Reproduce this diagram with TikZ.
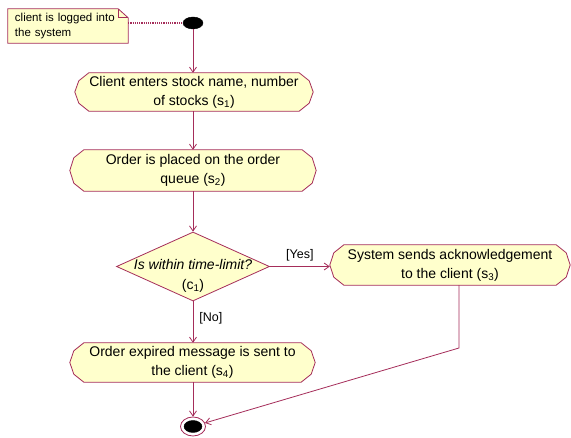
\documentclass[tikz,border=0pt]{standalone}
\usepackage{fontspec}
\setmainfont{Liberation Sans}
\usetikzlibrary{shapes.geometric,arrows.meta,calc,backgrounds}
\definecolor{umlline}{RGB}{165,45,90}
\definecolor{umlfill}{RGB}{255,255,204}
\newcommand\actoutline[1]{%
  \filldraw[actline] ($(#1.north west)+(14,0)$) -- ($(#1.north east)+(-14,0)$)
    -- ($(#1.north east)+(-4,8)$) -- (#1.east) -- ($(#1.south east)+(-4,-8)$)
    -- ($(#1.south east)+(-14,0)$) -- ($(#1.south west)+(14,0)$)
    -- ($(#1.south west)+(4,-8)$) -- (#1.west) -- ($(#1.north west)+(4,8)$) -- cycle;}
\tikzset{
  actline/.style={draw=umlline, fill=umlfill, line width=0.8pt, line join=round},
  act/.style={draw=none, inner sep=0pt, align=center, font=\fontsize{14}{19}\selectfont},
  decision/.style={shape=diamond, draw=umlline, fill=umlfill, line width=0.8pt, inner sep=0pt, minimum width=153pt, minimum height=69pt},
  dectext/.style={inner sep=0pt, align=center, font=\fontsize{14}{20}\selectfont},
  initnode/.style={shape=ellipse, fill=black, draw=black, inner sep=0pt, minimum width=20pt, minimum height=12pt},
  finalnode/.style={shape=ellipse, fill=white, draw=umlline, line width=0.8pt, inner sep=0pt, minimum width=25pt, minimum height=19pt},
  finaldot/.style={shape=ellipse, fill=black, draw=black, inner sep=0pt, minimum width=18pt, minimum height=12pt},
  note/.style={draw=none, inner xsep=7pt, inner ysep=0pt, text width=106pt, minimum height=34pt, align=left, font=\fontsize{11.5}{15}\selectfont},
  noteline/.style={draw=umlline, fill=umlfill, line width=0.8pt},
  flow/.style={draw=umlline, line width=0.8pt, -{Straight Barb[length=5pt,width=7pt]}},
  noteconn/.style={draw=umlline, line width=1.2pt, dash pattern=on 1.2pt off 1pt},
  guard/.style={font=\fontsize{12.5}{15}\selectfont, inner sep=2pt}
}
\begin{document}
\begin{tikzpicture}[x=1pt,y=-1pt]
\useasboundingbox (0,0) rectangle (571,438);

\node[note] (note) at (68,26) {client is logged into\\the system};
\node[initnode] (init) at (193,23) {};

\node[act, minimum width=238pt, minimum height=38pt] (s1) at (194,92)
  {Client enters stock name, number\\of stocks (s\textsubscript{1})};
\node[act, minimum width=246pt, minimum height=41pt] (s2) at (193,170.5)
  {Order is placed on the order\\queue (s\textsubscript{2})};
\node[decision] (c1) at (193,266.5) {};
\node[dectext] (c1t) at (193,276) {\textit{Is within time-limit?}\\(c\textsubscript{1})};
\node[act, minimum width=240pt, minimum height=40pt] (s3) at (450,265)
  {System sends acknowledgement\\to the client (s\textsubscript{3})};
\node[act, minimum width=245pt, minimum height=39pt] (s4) at (192.5,362.5)
  {Order expired message is sent to\\the client (s\textsubscript{4})};
\node[finalnode] (fin) at (193,426.5) {};
\node[finaldot] (findot) at (fin) {};
\coordinate (bend) at (459,348);

\begin{scope}[on background layer]
  \fill[white] (0,0) rectangle (571,438);
  \filldraw[noteline] (note.north west) -- ($(note.north east)+(-10,0)$)
    -- ($(note.north east)+(0,9)$) -- (note.south east) -- (note.south west) -- cycle;
  \draw[noteline, fill=none] ($(note.north east)+(-10,0)$) -- ($(note.north east)+(-10,9)$) -- ($(note.north east)+(0,9)$);
  \actoutline{s1}
  \actoutline{s2}
  \actoutline{s3}
  \actoutline{s4}
\end{scope}

\draw[noteconn] (init -| note.east) -- (init.west);
\draw[flow] (init.south) -- (init.south |- s1.north);
\draw[flow] (s1.south -| init) -- (s2.north -| init);
\draw[flow] (s2.south -| c1) -- (c1.north);
\draw[flow] (c1.east) -- (c1.east -| s3.west) node[guard, midway, above=3pt] {[Yes]};
\draw[flow] (c1.south) -- (c1.south |- s4.north) node[guard, pos=0.4, right=4pt] {[No]};
\draw[flow] (s4.south -| fin) -- (fin.north);
\draw[flow] (s3.south -| bend) -- (bend) -- (fin);
\end{tikzpicture}
\end{document}
